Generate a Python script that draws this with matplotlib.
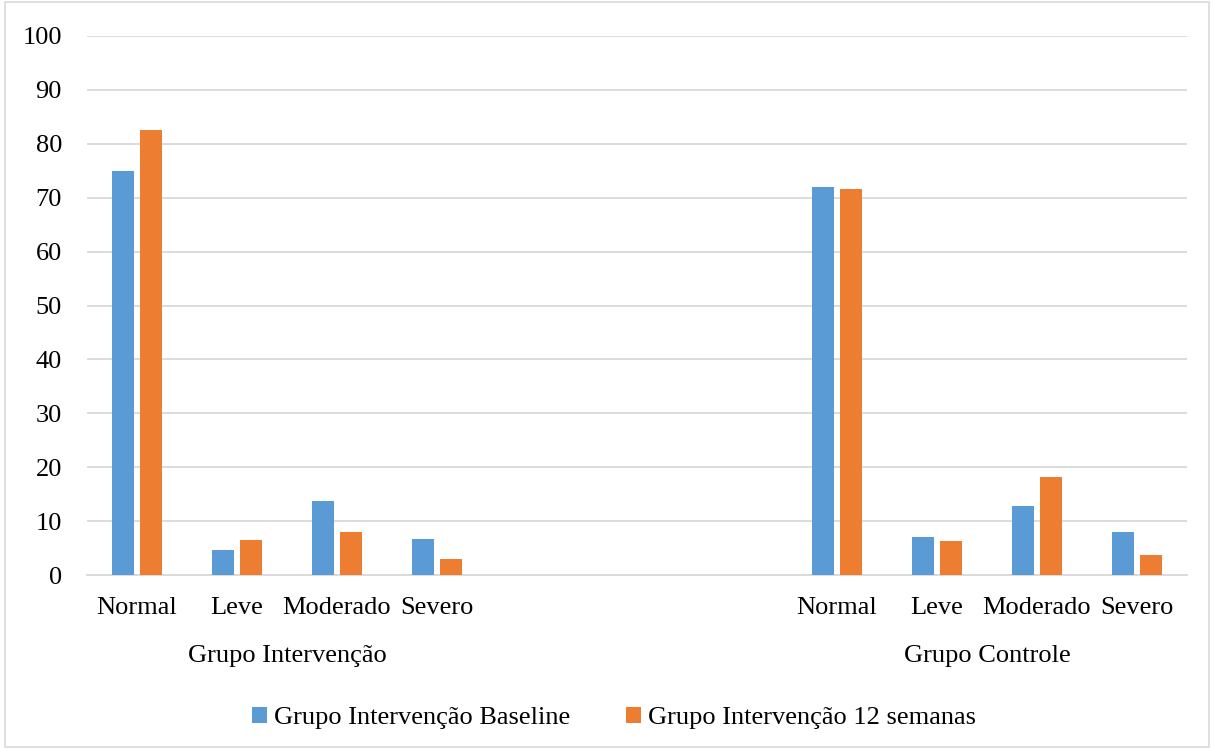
import numpy as np
import matplotlib.pyplot as plt
from matplotlib.patches import Rectangle
import matplotlib.transforms as mtransforms

# data
categorias = ["Normal", "Leve", "Moderado", "Severo"]
grupos = ["Grupo Intervenção", "Grupo Controle"]
series = ["Grupo Intervenção Baseline", "Grupo Intervenção 12 semanas"]

intervencao_baseline = [75.0, 4.6, 13.8, 6.6]
intervencao_12sem = [82.6, 6.5, 8.0, 2.9]
controle_baseline = [72.0, 7.1, 12.8, 7.9]
controle_12sem = [71.6, 6.3, 18.2, 3.7]

yticks = list(range(0, 101, 10))

plt.rcParams['font.family'] = ['Liberation Serif', 'DejaVu Serif']
fs = 19

fig = plt.figure(figsize=(12.14, 7.49), dpi=100)
ax = fig.add_axes([87 / 1214, 1 - 575 / 749, 1100 / 1214, 539 / 749])

blue = "#5B9BD5"
orange = "#ED7D31"
grid = "#D9D9D9"

pos_int = np.arange(4)
pos_ctl = np.arange(4) + 7
pos = np.concatenate([pos_int, pos_ctl])
base = intervencao_baseline + controle_baseline
semanas = intervencao_12sem + controle_12sem

w = 0.22
off = 0.143
ax.bar(pos - off, base, width=w, color=blue, zorder=3, label=series[0])
ax.bar(pos + off, semanas, width=w, color=orange, zorder=3, label=series[1])

ax.set_xlim(-0.5, 10.5)
ax.set_ylim(0, 100)
ax.set_yticks(yticks)
ax.set_xticks(pos)
ax.set_xticklabels(categorias * 2)
ax.tick_params(axis='both', length=0, labelsize=fs, colors="black")
ax.tick_params(axis='x', pad=16)
ax.tick_params(axis='y', pad=18)
ax.grid(axis='y', color=grid, linewidth=1.3, zorder=0)
for s in ["top", "right", "left"]:
    ax.spines[s].set_visible(False)
ax.spines["bottom"].set_color(grid)
ax.spines["bottom"].set_linewidth(1.3)

trans = mtransforms.blended_transform_factory(ax.transData, ax.transAxes)
ax.text(1.5, -0.151, grupos[0], transform=trans, ha='center', va='center', fontsize=fs)
ax.text(8.5, -0.151, grupos[1], transform=trans, ha='center', va='center', fontsize=fs)

fig.legend(loc='center', bbox_to_anchor=(614 / 1214, 1 - 718 / 749), ncol=2,
           frameon=False, fontsize=fs, handlelength=0.57, handleheight=0.57,
           handletextpad=0.27, columnspacing=2.1)

fig.patches.append(Rectangle((0.004, 0.003), 0.992, 0.994, transform=fig.transFigure,
                             fill=False, edgecolor=grid, linewidth=1.2))

fig.savefig("out.png", dpi=100)
